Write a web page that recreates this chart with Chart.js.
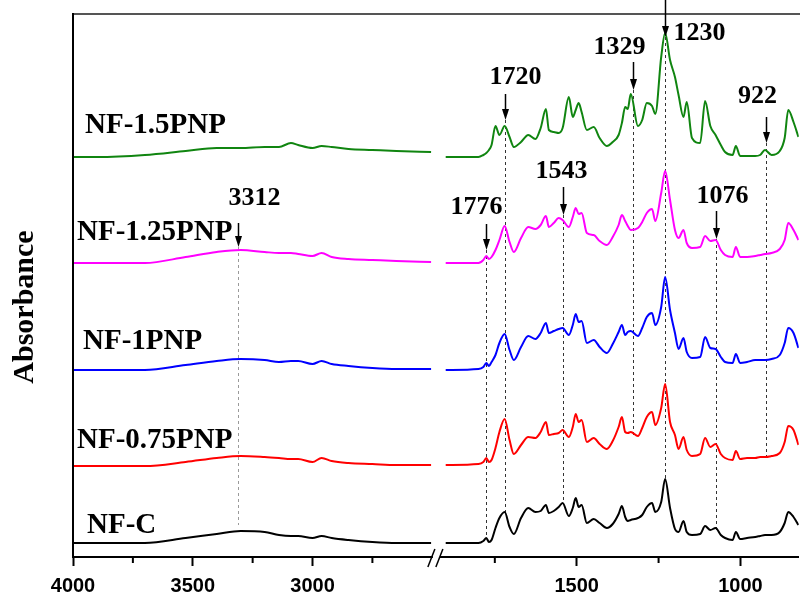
<!DOCTYPE html>
<html lang="en">
<head>
<meta charset="UTF-8">
<title>FTIR spectra</title>
<script src="https://cdn.jsdelivr.net/npm/chart.js"></script>
<style>
  html, body { margin: 0; padding: 0; background: #fff; }
  #wrap { position: relative; width: 800px; height: 595px; }
</style>
</head>
<body>
<div id="wrap"><canvas id="ftir"></canvas></div>
<script>
// wavenumbers (cm-1), high side of the axis break and low side
const wnHigh = [4000, 3900, 3700, 3530, 3400, 3300, 3200, 3140, 3090, 3060, 3000, 2962, 2920, 2850, 2750, 2650, 2505];
const wnLow = [1900, 1800, 1785, 1776, 1768, 1760, 1748, 1736, 1720, 1705, 1692, 1670, 1648, 1626, 1610, 1594, 1585,
  1570, 1555, 1543, 1524, 1512, 1503, 1494, 1485, 1469, 1448, 1430, 1408, 1390, 1372, 1362, 1352, 1344, 1335, 1313,
  1300, 1286, 1270, 1260, 1242, 1230, 1215, 1200, 1189, 1174, 1164, 1148, 1123, 1108, 1092, 1076, 1060, 1047, 1024,
  1014, 1001, 980, 955, 940, 925, 905, 880, 865, 854, 838, 823];

// tick positions on each side of the break (labels only on multiples of 500)
const ticksHigh = [4000, 3750, 3500, 3250, 3000, 2750];
const ticksLow = [1750, 1500, 1250, 1000];

// absorbance (a.u., spectra stacked with offsets as in the figure)
const nfC_high = [0.14, 0.14, 0.14, 0.19, 0.23, 0.26, 0.25, 0.22, 0.21, 0.21, 0.19, 0.21, 0.19, 0.17, 0.15, 0.14, 0.14];
const nfC_low = [0.14, 0.14, 0.16, 0.19, 0.15, 0.17, 0.29, 0.39, 0.45, 0.30, 0.23, 0.39, 0.49, 0.45, 0.46, 0.52, 0.44,
  0.46, 0.50, 0.54, 0.41, 0.49, 0.59, 0.50, 0.52, 0.34, 0.38, 0.34, 0.29, 0.33, 0.43, 0.51, 0.40, 0.36, 0.37, 0.39,
  0.42, 0.50, 0.54, 0.45, 0.55, 0.78, 0.49, 0.28, 0.25, 0.36, 0.25, 0.22, 0.23, 0.31, 0.27, 0.29, 0.22, 0.19, 0.17,
  0.25, 0.18, 0.19, 0.20, 0.21, 0.22, 0.22, 0.25, 0.34, 0.45, 0.40, 0.32];

const nf075_high = [0.91, 0.91, 0.91, 0.95, 0.99, 1.01, 1.00, 0.99, 0.98, 0.98, 0.95, 0.99, 0.96, 0.94, 0.93, 0.92, 0.92];
const nf075_low = [0.92, 0.93, 0.95, 0.99, 0.95, 0.97, 1.09, 1.25, 1.38, 1.17, 1.03, 1.12, 1.20, 1.19, 1.25, 1.35, 1.22,
  1.23, 1.24, 1.27, 1.20, 1.30, 1.43, 1.35, 1.37, 1.15, 1.19, 1.13, 1.08, 1.16, 1.30, 1.40, 1.25, 1.24, 1.25, 1.21,
  1.29, 1.40, 1.45, 1.32, 1.49, 1.73, 1.35, 1.22, 1.08, 1.20, 1.07, 1.01, 1.03, 1.19, 1.10, 1.13, 1.03, 0.99, 0.97,
  1.06, 0.98, 0.99, 0.99, 1.00, 1.00, 1.01, 1.04, 1.15, 1.31, 1.27, 1.12];

const nf1_high = [1.87, 1.87, 1.87, 1.92, 1.96, 1.98, 1.97, 1.95, 1.96, 1.96, 1.93, 1.96, 1.93, 1.91, 1.89, 1.88, 1.88];
const nf1_low = [1.87, 1.88, 1.90, 1.94, 1.91, 1.95, 2.02, 2.14, 2.23, 2.07, 1.97, 2.10, 2.21, 2.18, 2.24, 2.34, 2.24,
  2.26, 2.28, 2.29, 2.22, 2.32, 2.43, 2.35, 2.36, 2.14, 2.17, 2.10, 2.04, 2.13, 2.25, 2.32, 2.22, 2.25, 2.26, 2.21,
  2.29, 2.40, 2.44, 2.32, 2.50, 2.80, 2.47, 2.24, 2.08, 2.19, 2.05, 1.99, 2.00, 2.20, 2.09, 2.08, 2.00, 1.95, 1.94,
  2.03, 1.94, 1.95, 1.97, 1.97, 1.97, 1.98, 2.02, 2.14, 2.29, 2.24, 2.09];

const nf125_high = [2.94, 2.94, 2.94, 3.00, 3.05, 3.07, 3.05, 3.04, 3.04, 3.03, 3.01, 3.04, 3.00, 2.98, 2.97, 2.96, 2.95];
const nf125_low = [2.94, 2.94, 2.97, 3.01, 2.98, 3.00, 3.07, 3.17, 3.31, 3.15, 3.05, 3.19, 3.30, 3.28, 3.32, 3.41, 3.30,
  3.34, 3.39, 3.37, 3.30, 3.40, 3.49, 3.43, 3.44, 3.24, 3.22, 3.16, 3.12, 3.20, 3.32, 3.42, 3.36, 3.31, 3.27, 3.29,
  3.35, 3.44, 3.48, 3.36, 3.64, 3.86, 3.57, 3.27, 3.19, 3.27, 3.14, 3.09, 3.10, 3.21, 3.16, 3.17, 3.07, 3.02, 3.00,
  3.10, 3.00, 3.00, 3.01, 3.02, 3.03, 3.04, 3.08, 3.17, 3.34, 3.27, 3.17];

const nf15_high = [4.00, 4.00, 4.02, 4.06, 4.09, 4.09, 4.10, 4.10, 4.14, 4.12, 4.09, 4.11, 4.10, 4.08, 4.07, 4.06, 4.05];
const nf15_low = [4.00, 4.00, 4.02, 4.04, 4.07, 4.12, 4.31, 4.22, 4.31, 4.20, 4.10, 4.15, 4.22, 4.18, 4.29, 4.48, 4.27,
  4.25, 4.24, 4.29, 4.60, 4.40, 4.47, 4.54, 4.45, 4.27, 4.30, 4.19, 4.11, 4.15, 4.22, 4.34, 4.50, 4.48, 4.63, 4.31,
  4.37, 4.54, 4.51, 4.43, 5.00, 5.24, 4.97, 4.80, 4.62, 4.40, 4.55, 4.19, 4.14, 4.56, 4.31, 4.22, 4.12, 4.05, 4.02,
  4.11, 4.01, 4.01, 4.01, 4.02, 4.07, 4.02, 4.06, 4.19, 4.47, 4.35, 4.20];

const seriesNames = ['NF-C', 'NF-0.75PNP', 'NF-1PNP', 'NF-1.25PNP', 'NF-1.5PNP'];
const highSeries = [nfC_high, nf075_high, nf1_high, nf125_high, nf15_high];
const lowSeries = [nfC_low, nf075_low, nf1_low, nf125_low, nf15_low];

// marked bands (cm-1)
const peakWn = [3312, 1776, 1720, 1543, 1329, 1230, 1076, 922];

// ---- styling / layout ----
const colors = ['#000000', '#ff0000', '#0000ff', '#ff00ff', '#108510'];
const nameSpots = [[87, 526], [77, 441], [83, 342], [77, 233], [85, 126]];
const markLayout = [
  { axis: 'xL', tip: 3.10, len: 24, lx: 16, ly: -49, bottom: 0.32, dash: '#9a9a9a' },
  { axis: 'xR', tip: 3.07, len: 26, lx: -10, ly: -43, bottom: 0.19, dash: '#333' },
  { axis: 'xR', tip: 4.37, len: 26, lx: 10, ly: -43, bottom: 0.45, dash: '#333' },
  { axis: 'xR', tip: 3.42, len: 28, lx: -2, ly: -44, bottom: 0.55, dash: '#333' },
  { axis: 'xR', tip: 4.67, len: 28, lx: -14, ly: -43, bottom: 1.20, dash: '#333' },
  { axis: 'xR', tip: 5.20, len: 38, lx: 34, ly: -4, bottom: 0.77, dash: '#333' },
  { axis: 'xR', tip: 3.18, len: 28, lx: 6, ly: -43, bottom: 0.27, dash: '#333' },
  { axis: 'xR', tip: 4.14, len: 26, lx: -9, ly: -47, bottom: 1.00, dash: '#333' }
];

const datasets = [];
seriesNames.forEach((name, i) => {
  const common = {
    label: name,
    borderColor: colors[i],
    borderWidth: 2,
    pointRadius: 0,
    fill: false,
    cubicInterpolationMode: 'monotone',
    yAxisID: 'y'
  };
  datasets.push(Object.assign({}, common, {
    xAxisID: 'xL',
    data: wnHigh.map((w, k) => ({ x: w, y: highSeries[i][k] }))
  }));
  datasets.push(Object.assign({}, common, {
    xAxisID: 'xR',
    data: wnLow.map((w, k) => ({ x: w, y: lowSeries[i][k] }))
  }));
});

const tickFont = { family: '"Liberation Sans", Arial, sans-serif', size: 20, weight: 'bold' };

function xAxis(min, max, tickValues) {
  return {
    type: 'linear',
    position: 'bottom',
    stack: 'wavenumber',
    stackWeight: 1,
    reverse: true,
    min: min,
    max: max,
    afterBuildTicks: s => { s.ticks = tickValues.map(v => ({ value: v })); },
    afterFit: s => { s.height = 38; },
    ticks: {
      autoSkip: false,
      maxRotation: 0,
      padding: 8,
      color: '#000',
      font: tickFont,
      callback: v => (v % 500 === 0 ? String(v) : '')
    },
    grid: {
      drawOnChartArea: false,
      tickLength: 9,
      tickWidth: 2,
      tickColor: c => (c.tick && c.tick.value % 500 === 0 ? '#000' : 'rgba(0,0,0,0)')
    },
    border: { color: '#000', width: 2 }
  };
}

const decorations = {
  id: 'decorations',
  beforeDatasetsDraw(chart) {
    const ctx = chart.ctx;
    const y = chart.scales.y;
    ctx.save();
    ctx.lineWidth = 1;
    ctx.setLineDash([3, 3]);
    peakWn.forEach((wn, i) => {
      const m = markLayout[i];
      const x = Math.round(chart.scales[m.axis].getPixelForValue(wn)) + 0.5;
      ctx.strokeStyle = m.dash;
      ctx.beginPath();
      ctx.moveTo(x, y.getPixelForValue(m.tip));
      ctx.lineTo(x, y.getPixelForValue(m.bottom));
      ctx.stroke();
    });
    ctx.restore();
  },
  afterDraw(chart) {
    const ctx = chart.ctx;
    const area = chart.chartArea;
    const y = chart.scales.y;
    ctx.save();

    // frame: top line and left axis
    ctx.lineWidth = 2;
    ctx.strokeStyle = '#555';
    ctx.beginPath();
    ctx.moveTo(area.left, area.top);
    ctx.lineTo(800, area.top);
    ctx.stroke();
    ctx.strokeStyle = '#000';
    ctx.beginPath();
    ctx.moveTo(area.left, area.top - 1);
    ctx.lineTo(area.left, area.bottom + 1);
    ctx.stroke();

    // short minor ticks
    ['xL', 'xR'].forEach(id => {
      const s = chart.scales[id];
      s.ticks.forEach(t => {
        if (t.value % 500 === 0) return;
        const x = s.getPixelForValue(t.value);
        ctx.beginPath();
        ctx.moveTo(x, area.bottom);
        ctx.lineTo(x, area.bottom + 6);
        ctx.stroke();
      });
    });

    // axis break
    const bx = chart.scales.xL.right;
    ctx.fillStyle = '#fff';
    ctx.fillRect(bx - 3, area.bottom - 3, 7, 7);
    ctx.lineWidth = 1.5;
    [-4, 4].forEach(dx => {
      ctx.beginPath();
      ctx.moveTo(bx + dx - 4, area.bottom + 10);
      ctx.lineTo(bx + dx + 3, area.bottom - 8);
      ctx.stroke();
    });

    // arrows and band labels
    ctx.fillStyle = '#000';
    ctx.strokeStyle = '#000';
    ctx.font = 'bold 26px "Liberation Serif", "Times New Roman", serif';
    ctx.textAlign = 'center';
    ctx.textBaseline = 'middle';
    peakWn.forEach((wn, i) => {
      const m = markLayout[i];
      const x = Math.round(chart.scales[m.axis].getPixelForValue(wn)) + 0.5;
      const tipY = y.getPixelForValue(m.tip);
      ctx.lineWidth = 1.5;
      ctx.beginPath();
      ctx.moveTo(x, tipY - m.len);
      ctx.lineTo(x, tipY - 8);
      ctx.stroke();
      ctx.beginPath();
      ctx.moveTo(x - 3.5, tipY - 11);
      ctx.lineTo(x + 3.5, tipY - 11);
      ctx.lineTo(x, tipY);
      ctx.closePath();
      ctx.fill();
      ctx.fillText(String(wn), x + m.lx, tipY + m.ly);
    });

    // sample names
    ctx.font = 'bold 29px "Liberation Serif", "Times New Roman", serif';
    ctx.textAlign = 'left';
    seriesNames.forEach((name, i) => {
      ctx.fillText(name, nameSpots[i][0], nameSpots[i][1]);
    });

    // y title
    ctx.font = 'bold 30px "Liberation Serif", "Times New Roman", serif';
    ctx.textAlign = 'center';
    ctx.textBaseline = 'alphabetic';
    ctx.translate(33, 307);
    ctx.rotate(-Math.PI / 2);
    ctx.fillText('Absorbance', 0, 0);

    ctx.restore();
  }
};

new Chart(document.getElementById('ftir'), {
  type: 'line',
  data: { datasets },
  options: {
    responsive: true,
    maintainAspectRatio: false,
    animation: false,
    layout: { padding: { left: 73, top: 14, right: 0, bottom: 0 } },
    plugins: { legend: { display: false }, tooltip: { enabled: false } },
    scales: {
      xL: xAxis(2485, 4000, ticksHigh),
      xR: xAxis(822, 1930, ticksLow),
      y: { display: false, min: 0, max: 5.43 }
    }
  },
  plugins: [decorations]
});
</script>
</body>
</html>
